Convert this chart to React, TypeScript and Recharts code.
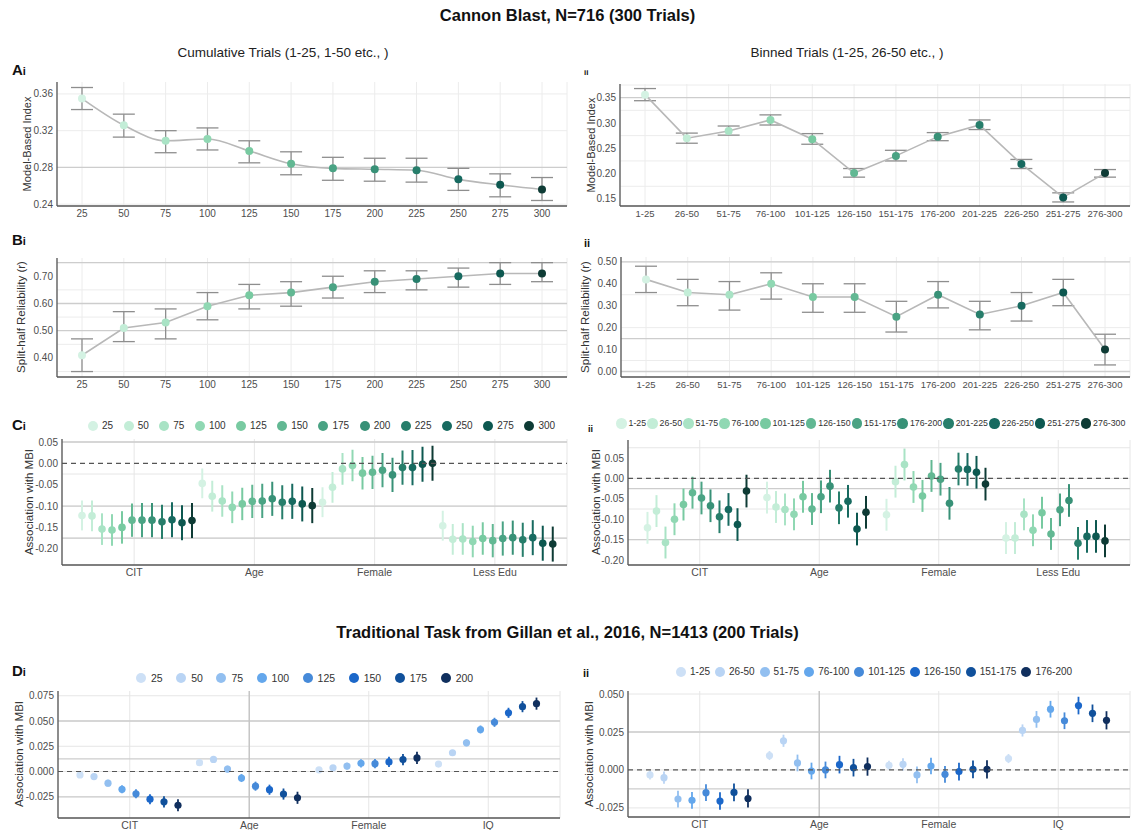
import React from 'react';
import {
  ComposedChart, BarChart, Line, Bar, ErrorBar, XAxis, YAxis,
  CartesianGrid, ReferenceLine, Legend,
} from 'recharts';

const FONT = '"Liberation Sans", Arial, Helvetica, sans-serif';

// trial windows
const cumTrials = ['25', '50', '75', '100', '125', '150', '175', '200', '225', '250', '275', '300'];
const binTrials = ['1-25', '26-50', '51-75', '76-100', '101-125', '126-150', '151-175', '176-200', '201-225', '226-250', '251-275', '276-300'];
const gillanCum = ['25', '50', '75', '100', '125', '150', '175', '200'];
const gillanBin = ['1-25', '26-50', '51-75', '76-100', '101-125', '126-150', '151-175', '176-200'];

// A: model-based index, mean and 95% CI
const mbiCumMean = [0.355, 0.326, 0.309, 0.311, 0.298, 0.284, 0.279, 0.278, 0.277, 0.267, 0.261, 0.256];
const mbiCumLow = [0.343, 0.313, 0.296, 0.299, 0.285, 0.272, 0.266, 0.265, 0.264, 0.255, 0.248, 0.244];
const mbiCumHigh = [0.367, 0.338, 0.320, 0.323, 0.309, 0.297, 0.291, 0.290, 0.290, 0.279, 0.273, 0.269];
const mbiBinMean = [0.356, 0.270, 0.284, 0.306, 0.268, 0.201, 0.235, 0.273, 0.296, 0.219, 0.153, 0.201];
const mbiBinLow = [0.344, 0.260, 0.276, 0.296, 0.258, 0.193, 0.225, 0.265, 0.287, 0.210, 0.144, 0.193];
const mbiBinHigh = [0.368, 0.280, 0.294, 0.316, 0.279, 0.210, 0.246, 0.281, 0.306, 0.228, 0.162, 0.208];

// B: split-half reliability
const relCumMean = [0.41, 0.51, 0.53, 0.59, 0.63, 0.64, 0.66, 0.68, 0.69, 0.70, 0.71, 0.71];
const relCumLow = [0.35, 0.46, 0.47, 0.54, 0.58, 0.59, 0.62, 0.64, 0.65, 0.66, 0.67, 0.68];
const relCumHigh = [0.47, 0.57, 0.58, 0.64, 0.67, 0.68, 0.70, 0.72, 0.72, 0.73, 0.75, 0.75];
const relBinMean = [0.42, 0.36, 0.35, 0.40, 0.34, 0.34, 0.25, 0.35, 0.26, 0.30, 0.36, 0.10];
const relBinLow = [0.36, 0.30, 0.28, 0.33, 0.27, 0.27, 0.18, 0.29, 0.19, 0.23, 0.30, 0.03];
const relBinHigh = [0.48, 0.42, 0.41, 0.45, 0.40, 0.40, 0.32, 0.41, 0.32, 0.36, 0.42, 0.17];

// C: association with MBI, Cannon Blast
const cannonPredictors = ['CIT', 'Age', 'Female', 'Less Edu'];
const assocCumCIT = [-0.122, -0.123, -0.154, -0.156, -0.150, -0.133, -0.133, -0.133, -0.137, -0.132, -0.139, -0.134];
const assocCumAge = [-0.047, -0.077, -0.088, -0.103, -0.095, -0.089, -0.088, -0.083, -0.091, -0.089, -0.095, -0.099];
const assocCumFemale = [-0.091, -0.056, -0.013, -0.005, -0.023, -0.021, -0.016, -0.027, -0.010, -0.010, -0.002, 0.000];
const assocCumEdu = [-0.146, -0.178, -0.177, -0.183, -0.176, -0.181, -0.176, -0.174, -0.179, -0.174, -0.187, -0.189];
const assocCumHalf = [0.035, 0.036, 0.037, 0.037, 0.038, 0.039, 0.040, 0.040, 0.040, 0.041, 0.041, 0.041];

const assocBinCIT = [-0.121, -0.080, -0.157, -0.100, -0.064, -0.035, -0.048, -0.067, -0.094, -0.076, -0.113, -0.031];
const assocBinAge = [-0.047, -0.070, -0.076, -0.088, -0.045, -0.075, -0.045, -0.019, -0.072, -0.056, -0.124, -0.083];
const assocBinFemale = [-0.089, -0.008, 0.034, -0.021, -0.043, 0.006, -0.002, -0.061, 0.023, 0.022, 0.015, -0.014];
const assocBinEdu = [-0.146, -0.146, -0.088, -0.127, -0.084, -0.136, -0.077, -0.054, -0.159, -0.142, -0.142, -0.153];
const assocBinHalf = [0.039, 0.039, 0.039, 0.039, 0.039, 0.039, 0.040, 0.040, 0.040, 0.040, 0.040, 0.040];

// D: association with MBI, Gillan et al. task
const gillanPredictors = ['CIT', 'Age', 'Female', 'IQ'];
const gCumCIT = [-0.0034, -0.0050, -0.0115, -0.0176, -0.0220, -0.0274, -0.0300, -0.0334];
const gCumAge = [0.0088, 0.0120, 0.0024, -0.0064, -0.0145, -0.0180, -0.0223, -0.0260];
const gCumFemale = [0.0017, 0.0037, 0.0054, 0.0081, 0.0078, 0.0095, 0.0118, 0.0135];
const gCumIQ = [0.0074, 0.0186, 0.0284, 0.0416, 0.0487, 0.0581, 0.0642, 0.0672];
const gCumHalf = [0.0020, 0.0028, 0.0034, 0.0040, 0.0045, 0.0050, 0.0055, 0.0060];

const gBinCIT = [-0.0033, -0.0051, -0.0192, -0.0200, -0.0150, -0.0205, -0.0148, -0.0188];
const gBinAge = [0.0095, 0.0192, 0.0046, -0.0007, 0.0000, 0.0035, 0.0015, 0.0022];
const gBinFemale = [0.0031, 0.0037, -0.0033, 0.0026, -0.0029, -0.0011, 0.0004, 0.0004];
const gBinIQ = [0.0075, 0.0260, 0.0333, 0.0400, 0.0324, 0.0424, 0.0373, 0.0327];
const gBinHalf = [0.0030, 0.0040, 0.0055, 0.0055, 0.0055, 0.0058, 0.0058, 0.0060];

const greens = ['#d4f2e3', '#c3edd7', '#a9e3c5', '#90d8b3', '#78caa1', '#62b893', '#4aa384', '#389177', '#277e6b', '#176a60', '#0d5850', '#0e3b35'];
const blues = ['#cde0f6', '#b9d4f4', '#92bff0', '#64a7ec', '#468ad9', '#1b67c9', '#10509b', '#102f5e'];

const tickStyle = { fontSize: 10, fill: '#4d4d4d', fontFamily: FONT };
const axisStyle = { stroke: '#555', strokeWidth: 1.3 };

function AxisTitle({ x, y, size, children }: any) {
  return (
    <div style={{
      position: 'absolute', left: x, top: y, transform: 'translate(-50%, -50%) rotate(-90deg)',
      whiteSpace: 'nowrap', fontFamily: FONT, fontSize: size, color: '#333', lineHeight: 1,
    }}>{children}</div>
  );
}

function PanelTag({ x, y, big, small, smallSize = 11 }: any) {
  return (
    <div style={{ position: 'absolute', left: x, top: y, fontFamily: FONT, fontWeight: 700, color: '#111', lineHeight: 1 }}>
      {big && <span style={{ fontSize: 15 }}>{big}</span>}
      <span style={{ fontSize: smallSize }}>{small}</span>
    </div>
  );
}

function TrendPanel(p: any) {
  const data = p.labels.map((t: string, i: number) => ({
    t, mean: p.mean[i], err: [p.mean[i] - p.low[i], p.high[i] - p.mean[i]],
  }));
  return (
    <div style={{ position: 'absolute', left: p.left, top: p.top }}>
      <ComposedChart width={p.width} height={p.height} data={data}
        margin={{ top: p.marginTop, right: p.marginRight, bottom: 0, left: 0 }}>
        <CartesianGrid stroke="#ececec" horizontalValues={p.grid} />
        <CartesianGrid stroke="#cdcdcd" strokeWidth={1.3} vertical={false} horizontalValues={p.dark} />
        <XAxis dataKey="t" height={24} interval={0} padding={{ left: 25, right: 25 }} tickLine={false}
          tickSize={3} tickMargin={1} axisLine={axisStyle} tick={{ ...tickStyle, fontSize: p.xFont }} />
        <YAxis width={p.yAxisWidth} domain={p.domain} ticks={p.ticks} allowDataOverflow tickLine={false}
          tickSize={3} tickMargin={1} axisLine={axisStyle} tick={tickStyle}
          tickFormatter={(v: number) => v.toFixed(2)} />
        <Line type={p.curve} dataKey="mean" stroke="#b8b8b8" strokeWidth={1.6} isAnimationActive={false}
          activeDot={false}
          dot={(d: any) => <circle key={`dot-${d.index}`} cx={d.cx} cy={d.cy} r={4} fill={greens[d.index]} />}>
          <ErrorBar dataKey="err" direction="y" width={11} stroke="#8e8e8e" strokeWidth={1.3} />
        </Line>
      </ComposedChart>
    </div>
  );
}

// dot + interval drawn inside the range bar the library lays out
const pointRange = (si: number, color: string, r: number, sw: number) => (b: any) => {
  const top = Math.min(b.y, b.y + b.height);
  const span = Math.abs(b.height);
  const [lo, hi] = b.payload['r' + si];
  const m = b.payload['m' + si];
  const cx = b.x + b.width / 2;
  const cy = top + (span * (hi - m)) / (hi - lo);
  return (
    <g>
      <line x1={cx} x2={cx} y1={top} y2={top + span} stroke={color} strokeWidth={sw} />
      <circle cx={cx} cy={cy} r={r} fill={color} />
    </g>
  );
};

const legendRow = (names: string[], o: any) => (props: any) => {
  const items = [...(props.payload || [])].sort((a: any, b: any) => names.indexOf(a.value) - names.indexOf(b.value));
  return (
    <div style={{ display: 'flex', alignItems: 'center', whiteSpace: 'nowrap', fontFamily: FONT, fontSize: o.font, color: '#333' }}>
      {items.map((it: any) => (
        <div key={it.value} style={{ display: 'flex', alignItems: 'center', marginRight: o.space, flex: 'none' }}>
          <span style={{ display: 'inline-block', width: o.dot, height: o.dot, borderRadius: '50%', background: it.color, marginRight: o.gap }} />
          <span>{it.value}</span>
        </div>
      ))}
    </div>
  );
};

function DodgePanel(p: any) {
  const data = p.groups.map((g: string, gi: number) => {
    const row: Record<string, any> = { group: g };
    p.series.forEach((_: string, si: number) => {
      const m = p.means[gi][si];
      row['m' + si] = m;
      row['r' + si] = [m - p.half[si], m + p.half[si]];
    });
    return row;
  });
  return (
    <div style={{ position: 'absolute', left: p.left, top: p.top }}>
      <BarChart width={p.width} height={p.height} data={data} barCategoryGap="2.5%" barGap={0}
        margin={{ top: p.marginTop, right: p.marginRight, bottom: 0, left: 0 }}>
        <CartesianGrid stroke="#e6e6e6" verticalStroke="#f0f0f0" horizontalValues={p.grid} />
        <CartesianGrid stroke="#cdcdcd" strokeWidth={1.3} vertical={false} horizontalValues={p.dark} />
        <XAxis dataKey="group" height={p.xAxisHeight} interval={0} padding={{ left: 12, right: 12 }}
          tickLine={false} tickSize={3} tickMargin={1} axisLine={axisStyle} tick={{ ...tickStyle, fontSize: 10.5 }} />
        <YAxis width={p.yAxisWidth} domain={p.domain} ticks={p.ticks} allowDataOverflow tickLine={false}
          tickSize={3} tickMargin={1} axisLine={axisStyle} tick={tickStyle}
          tickFormatter={(v: number) => v.toFixed(p.digits)} />
        {p.vdark && <ReferenceLine x={p.vdark} stroke="#c4c4c4" strokeWidth={1.4} />}
        <ReferenceLine y={0} stroke="#555" strokeDasharray="5 4" strokeWidth={1.2} />
        <Legend layout="horizontal" verticalAlign="middle" align="center"
          wrapperStyle={{ top: p.legendTop, left: p.legendLeft, width: 'auto' }}
          content={legendRow(p.series, p.legend)} />
        {p.series.map((name: string, si: number) => (
          <Bar key={name} name={name} dataKey={'r' + si} fill={p.colors[si]} legendType="circle"
            isAnimationActive={false} shape={pointRange(si, p.colors[si], p.r, p.sw)} />
        ))}
      </BarChart>
    </div>
  );
}

export default function App() {
  return (
    <div style={{ position: 'absolute', left: 0, top: 0, width: 1135, height: 830, overflow: 'hidden', background: '#fff', fontFamily: FONT }}>
      <div style={{ position: 'absolute', left: 0, top: 6, width: 1135, textAlign: 'center', fontWeight: 700, fontSize: 16.5, lineHeight: '19px', color: '#111' }}>
        Cannon Blast, N=716 (300 Trials)
      </div>
      <div style={{ position: 'absolute', left: 83, top: 45, width: 400, textAlign: 'center', fontSize: 13.5, lineHeight: '16px', color: '#222' }}>
        Cumulative Trials (1-25, 1-50 etc., )
      </div>
      <div style={{ position: 'absolute', left: 647, top: 45, width: 400, textAlign: 'center', fontSize: 13.5, lineHeight: '16px', color: '#222' }}>
        Binned Trials (1-25, 26-50 etc., )
      </div>

      <PanelTag x={12} y={62} big="A" small="i" />
      <PanelTag x={584} y={62} small="ii" smallSize={8} />
      <TrendPanel left={0} top={70} width={570} height={160} marginTop={12} marginRight={3} yAxisWidth={57}
        labels={cumTrials} mean={mbiCumMean} low={mbiCumLow} high={mbiCumHigh} curve="monotone" xFont={10}
        domain={[0.238, 0.373]} ticks={[0.24, 0.28, 0.32, 0.36]}
        grid={[0.24, 0.26, 0.28, 0.30, 0.32, 0.34, 0.36]} dark={[0.26, 0.28]} />
      <AxisTitle x={27} y={144} size={11}>Model-Based Index</AxisTitle>
      <TrendPanel left={570} top={70} width={565} height={160} marginTop={14} marginRight={5} yAxisWidth={50}
        labels={binTrials} mean={mbiBinMean} low={mbiBinLow} high={mbiBinHigh} curve="linear" xFont={9.5}
        domain={[0.136, 0.377]} ticks={[0.15, 0.20, 0.25, 0.30, 0.35]}
        grid={[0.15, 0.175, 0.20, 0.225, 0.25, 0.275, 0.30, 0.325, 0.35, 0.375]} dark={[0.325, 0.35]} />
      <AxisTitle x={591} y={145} size={11}>Model-Based Index</AxisTitle>

      <PanelTag x={12} y={232} big="B" small="i" />
      <PanelTag x={584} y={234} small="ii" smallSize={11} />
      <TrendPanel left={0} top={246} width={570} height={155} marginTop={12} marginRight={3} yAxisWidth={57}
        labels={cumTrials} mean={relCumMean} low={relCumLow} high={relCumHigh} curve="linear" xFont={10}
        domain={[0.33, 0.767]} ticks={[0.40, 0.50, 0.60, 0.70]}
        grid={[0.35, 0.40, 0.45, 0.50, 0.55, 0.60, 0.65, 0.70, 0.75]} dark={[0.50, 0.60, 0.75]} />
      <AxisTitle x={22} y={317} size={11.5}>Split-half Reliability (r)</AxisTitle>
      <TrendPanel left={570} top={246} width={565} height={155} marginTop={11} marginRight={5} yAxisWidth={51}
        labels={binTrials} mean={relBinMean} low={relBinLow} high={relBinHigh} curve="linear" xFont={9.5}
        domain={[-0.025, 0.522]} ticks={[0, 0.1, 0.2, 0.3, 0.4, 0.5]}
        grid={[0, 0.05, 0.1, 0.15, 0.2, 0.25, 0.3, 0.35, 0.4, 0.45, 0.5]} dark={[0, 0.15, 0.5]} />
      <AxisTitle x={586} y={317} size={11.5}>Split-half Reliability (r)</AxisTitle>

      <PanelTag x={12} y={417} big="C" small="i" />
      <PanelTag x={588} y={419} small="ii" smallSize={9} />
      <DodgePanel left={0} top={410} width={570} height={180} marginTop={29} marginRight={3} yAxisWidth={62} xAxisHeight={25}
        groups={cannonPredictors} series={cumTrials} colors={greens} half={assocCumHalf}
        means={[assocCumCIT, assocCumAge, assocCumFemale, assocCumEdu]} r={3.8} sw={2}
        domain={[-0.238, 0.057]} ticks={[-0.2, -0.15, -0.1, -0.05, 0, 0.05]} digits={2}
        grid={[-0.225, -0.2, -0.175, -0.15, -0.125, -0.1, -0.075, -0.05, -0.025, 0, 0.025, 0.05]}
        dark={[-0.175, -0.15, -0.1, 0.05]}
        legendTop={10} legendLeft={88} legend={{ font: 10, dot: 10, gap: 4, space: 10.5 }} />
      <AxisTitle x={30} y={502} size={11.5}>Association with MBI</AxisTitle>
      <DodgePanel left={570} top={410} width={565} height={180} marginTop={30} marginRight={5} yAxisWidth={58} xAxisHeight={25}
        groups={cannonPredictors} series={binTrials} colors={greens} half={assocBinHalf}
        means={[assocBinCIT, assocBinAge, assocBinFemale, assocBinEdu]} r={3.8} sw={2}
        domain={[-0.212, 0.094]} ticks={[-0.2, -0.15, -0.1, -0.05, 0, 0.05]} digits={2}
        grid={[-0.2, -0.175, -0.15, -0.125, -0.1, -0.075, -0.05, -0.025, 0, 0.025, 0.05, 0.075]}
        dark={[-0.2, -0.15, -0.025]}
        legendTop={8} legendLeft={46} legend={{ font: 8.8, dot: 10.5, gap: 2, space: 1 }} />
      <AxisTitle x={597} y={502} size={11.5}>Association with MBI</AxisTitle>

      <div style={{ position: 'absolute', left: 0, top: 623, width: 1135, textAlign: 'center', fontWeight: 700, fontSize: 16.5, lineHeight: '19px', color: '#111' }}>
        Traditional Task from Gillan et al., 2016, N=1413 (200 Trials)
      </div>

      <PanelTag x={12} y={663} big="D" small="i" />
      <PanelTag x={583} y={664} small="ii" smallSize={11} />
      <DodgePanel left={0} top={660} width={570} height={172} marginTop={31} marginRight={10} yAxisWidth={58} xAxisHeight={14}
        groups={gillanPredictors} series={gillanCum} colors={blues} half={gCumHalf}
        means={[gCumCIT, gCumAge, gCumFemale, gCumIQ]} r={3.6} sw={1.8} vdark="Age"
        domain={[-0.046, 0.0797]} ticks={[-0.025, 0, 0.025, 0.05, 0.075]} digits={3}
        grid={[-0.0375, -0.025, -0.0125, 0, 0.0125, 0.025, 0.0375, 0.05, 0.0625, 0.075]}
        dark={[-0.025, 0.0125, 0.05]}
        legendTop={12} legendLeft={136} legend={{ font: 10.5, dot: 10, gap: 5, space: 13.5 }} />
      <AxisTitle x={20} y={754} size={11.5}>Association with MBI</AxisTitle>
      <DodgePanel left={570} top={660} width={565} height={172} marginTop={31} marginRight={5} yAxisWidth={58} xAxisHeight={15}
        groups={gillanPredictors} series={gillanBin} colors={blues} half={gBinHalf}
        means={[gBinCIT, gBinAge, gBinFemale, gBinIQ]} r={3.6} sw={1.8} vdark="Age"
        domain={[-0.031, 0.052]} ticks={[-0.025, 0, 0.025, 0.05]} digits={3}
        grid={[-0.025, -0.0125, 0, 0.0125, 0.025, 0.0375, 0.05]}
        dark={[-0.0125, 0.025]}
        legendTop={6} legendLeft={106} legend={{ font: 10, dot: 10, gap: 4, space: 5 }} />
      <AxisTitle x={590} y={754} size={11.5}>Association with MBI</AxisTitle>
    </div>
  );
}
